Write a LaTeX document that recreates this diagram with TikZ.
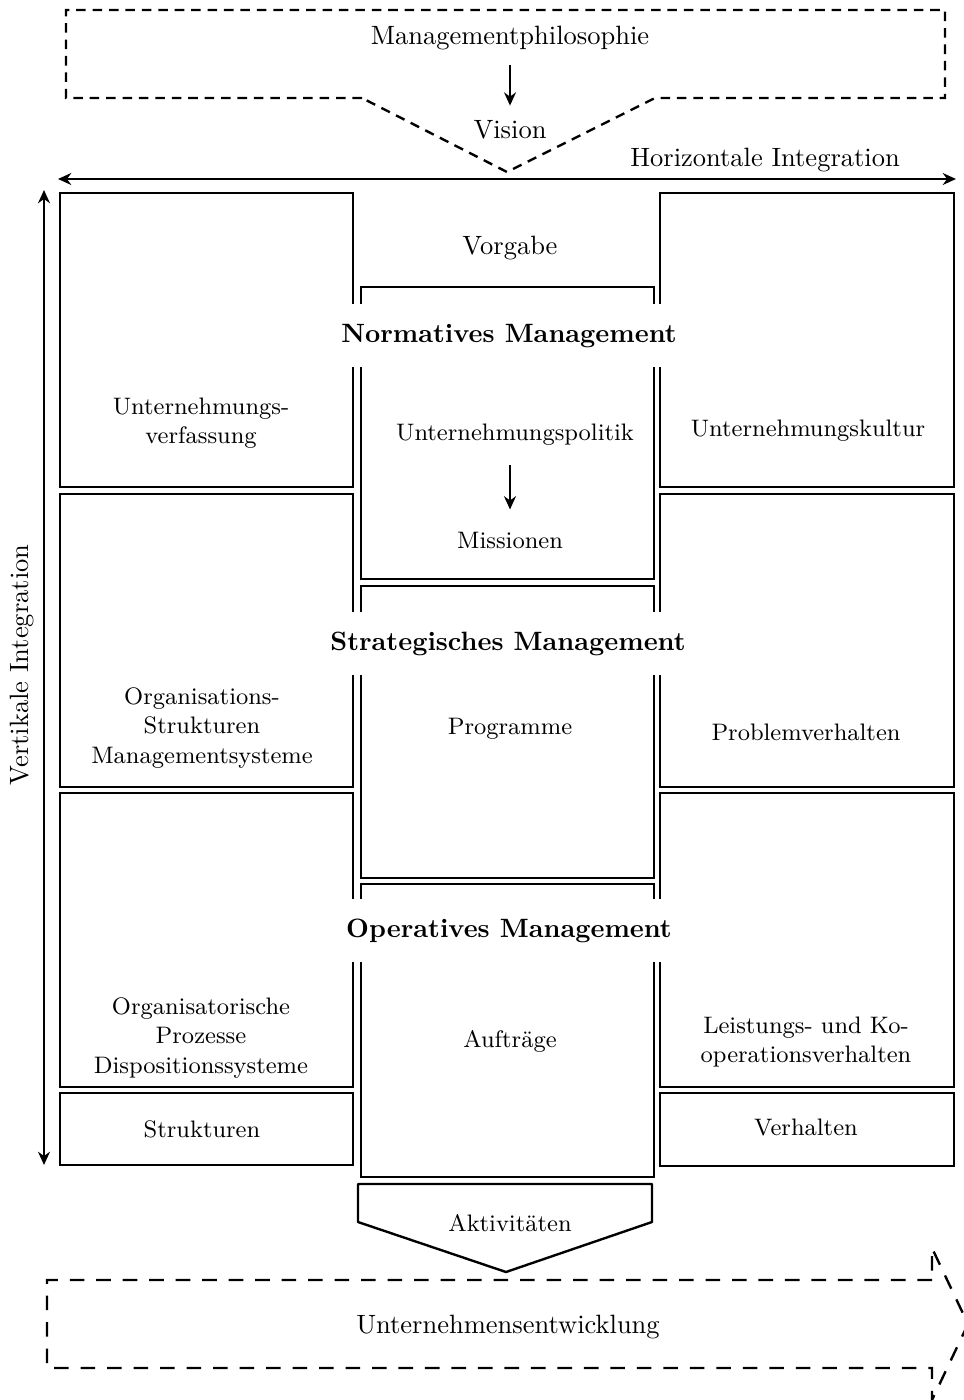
\documentclass[tikz,border=0pt]{standalone}
\usetikzlibrary{arrows.meta}
\begin{document}
\begin{tikzpicture}[x=0.3775pt,y=-0.3775pt,
  box/.style={line width=0.9pt},
  lbl/.style={font=\normalsize, align=center, inner sep=2pt},
  sml/.style={font=\small, align=center, inner sep=2pt},
  head/.style={font=\bfseries, fill=white, inner xsep=3pt, inner ysep=0pt, minimum height=24pt, anchor=base},
  arr/.style={line width=0.9pt, -{Stealth[length=5pt,width=4.5pt]}},
  dbl/.style={line width=0.9pt, {Stealth[length=5pt,width=4.5pt]}-{Stealth[length=5pt,width=4.5pt]}},
  dashA/.style={line width=0.9pt, dash pattern=on 3.6pt off 2.6pt},
  dashB/.style={line width=0.9pt, dash pattern=on 5.5pt off 4.5pt}]
\useasboundingbox (0,0) rectangle (963,1400);

% top dashed shape
\draw[dashA] (362,98) -- (66,98) -- (66,10) -- (945,10) -- (945,98) -- (655,98) -- (507,172) -- cycle;

% bottom dashed arrow
\draw[dashB] (932,1280) -- (47,1280) -- (47,1368) -- (932,1368) -- (932,1400) -- (968,1324) -- (932,1248) -- cycle;

% left column
\draw[box] (60,193) rectangle (353,487);
\draw[box] (60,494) rectangle (353,787);
\draw[box] (60,793) rectangle (353,1087);
\draw[box] (60,1093) rectangle (353,1165);
% right column
\draw[box] (660,193) rectangle (954,487);
\draw[box] (660,494) rectangle (954,787);
\draw[box] (660,793) rectangle (954,1087);
\draw[box] (660,1093) rectangle (954,1166);
% middle column
\draw[box] (361,287) rectangle (654,579);
\draw[box] (361,586) rectangle (654,878);
\draw[box] (361,884) rectangle (654,1177);
% Aktivitaeten shape
\draw[box, line join=round] (358,1184) -- (652,1184) -- (652,1222) -- (506,1272) -- (358,1222) -- cycle;

% integration arrows
\coordinate (hl) at (58,179);
\coordinate (hr) at (956,179);
\draw[dbl] (hl) -- (hr);
\coordinate (vt) at (44,190);
\coordinate (vb) at (44,1165);
\draw[dbl] (vt) -- (vb);

% texts
\node[lbl, anchor=base] (mp) at (510,44) {Managementphilosophie};
\node[lbl, anchor=base] (vis) at (510,138) {Vision};
\node[lbl, anchor=base] (hi) at (765,166) {Horizontale Integration};
\node[lbl, rotate=90] (vi) at (22,665) {Vertikale Integration};
\node[lbl, anchor=base] (vg) at (510,254) {Vorgabe};

\node[head] (nm) at (509,342) {Normatives Management};
\node[sml, anchor=base] (up) at (515,440) {Unternehmungspolitik};
\node[sml, anchor=base] (mi) at (510,548) {Missionen};
\node[head] (sm) at (508,650) {Strategisches Management};
\node[sml, anchor=base] (pg) at (510,734) {Programme};
\node[head] (om) at (509,937) {Operatives Management};
\node[sml, anchor=base] (af) at (510,1047) {Aufträge};
\node[sml, anchor=base] (ak) at (510,1231) {Aktivitäten};
\node[lbl, anchor=base] (ue) at (508,1333) {Unternehmensentwicklung};

\node[sml] (l1) at (201,423) {Unternehmungs-\\verfassung};
\node[sml] (l2) at (202,728) {Organisations-\\Strukturen\\Managementsysteme};
\node[sml] (l3) at (201,1038) {Organisatorische\\Prozesse\\Dispositionssysteme};
\node[sml, anchor=base] (l4) at (202,1137) {Strukturen};

\node[sml, anchor=base] (r1) at (808,436) {Unternehmungskultur};
\node[sml, anchor=base] (r2) at (806,740) {Problemverhalten};
\node[sml] (r3) at (806,1042) {Leistungs- und Ko-\\operationsverhalten};
\node[sml, anchor=base] (r4) at (806,1135) {Verhalten};

% arrows between texts
\draw[arr, shorten <=3.6pt, shorten >=3.2pt] (mp.south) -- (vis.north);
\draw[arr, shorten <=5.4pt, shorten >=6.2pt] (up.south -| mi.north) -- (mi.north);
\end{tikzpicture}
\end{document}
